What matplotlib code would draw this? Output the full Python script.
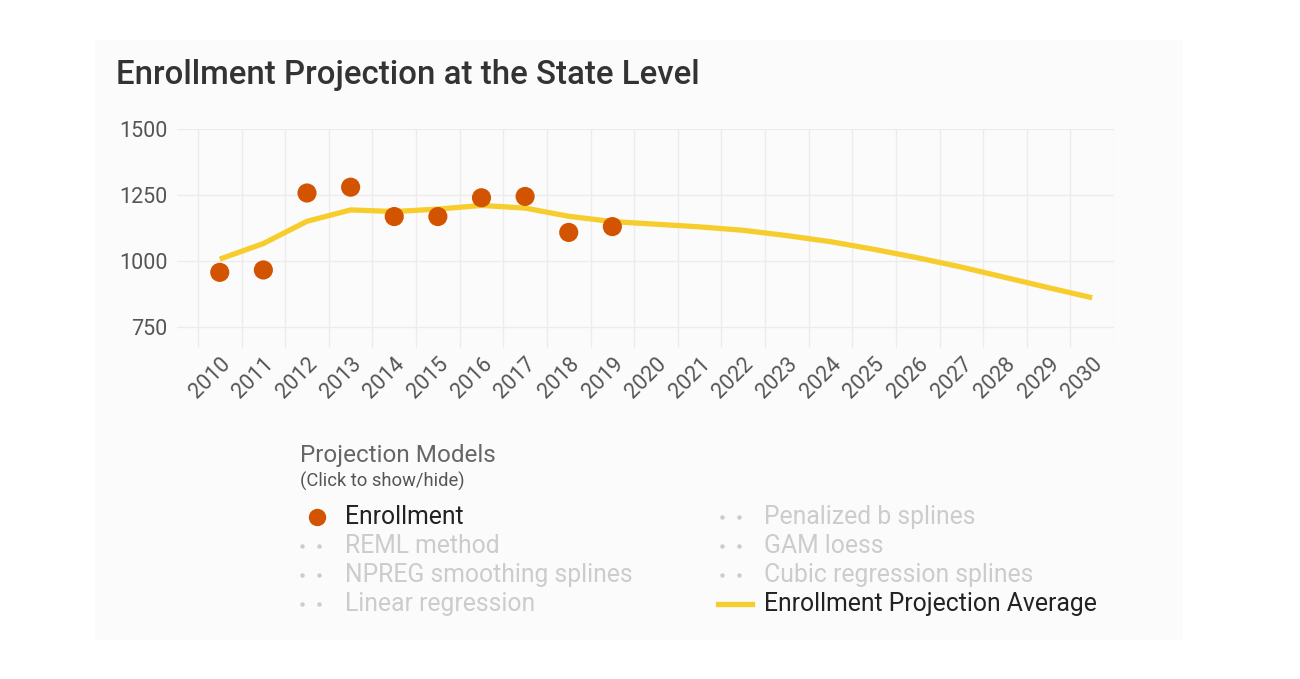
import matplotlib.pyplot as plt
from matplotlib.lines import Line2D
from matplotlib.patches import Rectangle

# data
years = list(range(2010, 2031))
enroll_years = list(range(2010, 2020))
enrollment = [958, 967, 1258, 1280, 1169, 1169, 1240, 1245, 1109, 1131]
projection_avg = [1008, 1067, 1151, 1194, 1188, 1197, 1211, 1201, 1170, 1150,
                  1140, 1130, 1117, 1097, 1074, 1045, 1013, 978, 939, 900, 862]
y_ticks = [750, 1000, 1250, 1500]

legend_left = ["Enrollment", "REML method", "NPREG smoothing splines", "Linear regression"]
legend_right = ["Penalized b splines", "GAM loess", "Cubic regression splines",
                "Enrollment Projection Average"]

orange = "#d35400"
yellow = "#f7cd2e"
grey_off = "#cccccc"

W, H = 1300, 679
plt.rcParams["font.family"] = ["Roboto", "DejaVu Sans"]

fig = plt.figure(figsize=(W / 100, H / 100), dpi=100)


def fx(x):
    return x / W


def fy(y):
    return 1 - y / H


# light panel behind the chart
fig.add_artist(Rectangle((fx(95), fy(640)), fx(1183) - fx(95), fy(40) - fy(640),
                         transform=fig.transFigure, facecolor="#fbfbfb",
                         edgecolor="none", zorder=-10))

ax = fig.add_axes([fx(177), fy(348), fx(1114) - fx(177), fy(129) - fy(348)])
ax.set_facecolor("none")

xs_enr = [y + 0.5 for y in enroll_years]
xs_all = [y + 0.5 for y in years]
ax.plot(xs_all, projection_avg, color=yellow, lw=3.8, solid_capstyle="butt",
        solid_joinstyle="round", zorder=2)
ax.scatter(xs_enr, enrollment, s=190, color=orange, edgecolors="none", zorder=3)

ax.set_xlim(2009.52, 2031)
ax.set_ylim(672, 1500)
ax.set_yticks(y_ticks)
ax.set_yticklabels([str(v) for v in y_ticks])
ax.set_xticks(xs_all)
ax.set_xticklabels([str(y) for y in years], rotation=45, ha="right",
                   va="top", rotation_mode="anchor")
ax.set_xticks(list(range(2010, 2032)), minor=True)
ax.tick_params(axis="both", which="both", length=0, labelsize=15.5,
               labelcolor="#555555")
ax.tick_params(axis="y", pad=7)
ax.tick_params(axis="x", pad=4)
ax.grid(False)
ax.grid(True, axis="y", which="major", color="#ececec", lw=1)
ax.grid(True, axis="x", which="minor", color="#ececec", lw=1)
for s in ax.spines.values():
    s.set_visible(False)

fig.text(fx(116), fy(84), "Enrollment Projection at the State Level",
         fontsize=23.8, weight="medium", color="#333333", va="baseline", ha="left")

# legend drawn by hand
fig.text(fx(300), fy(462), "Projection Models", fontsize=17.5, color="#666666",
         va="baseline")
fig.text(fx(300), fy(487), "(Click to show/hide)", fontsize=13.2, color="#555555",
         va="baseline")

rows = [517, 546, 575, 604]
for i, lab in enumerate(legend_left):
    on = i == 0
    fig.text(fx(345), fy(rows[i]), lab, fontsize=17.8,
             color="#222222" if on else grey_off, va="center")
    if on:
        fig.add_artist(Line2D([fx(317)], [fy(rows[i])], transform=fig.transFigure,
                              marker="o", ms=11.5, color=orange, ls="none"))
    else:
        fig.add_artist(Line2D([fx(302), fx(319)], [fy(rows[i])] * 2,
                              transform=fig.transFigure, marker="o", ms=2.2,
                              color=grey_off, ls="none"))

for i, lab in enumerate(legend_right):
    on = i == 3
    fig.text(fx(764), fy(rows[i]), lab, fontsize=17.8,
             color="#222222" if on else grey_off, va="center")
    if on:
        fig.add_artist(Line2D([fx(718), fx(752)], [fy(rows[i])] * 2,
                              transform=fig.transFigure, lw=3.8, color=yellow))
    else:
        fig.add_artist(Line2D([fx(722), fx(739)], [fy(rows[i])] * 2,
                              transform=fig.transFigure, marker="o", ms=2.2,
                              color=grey_off, ls="none"))

fig.savefig("out.png", dpi=100, facecolor="white")
